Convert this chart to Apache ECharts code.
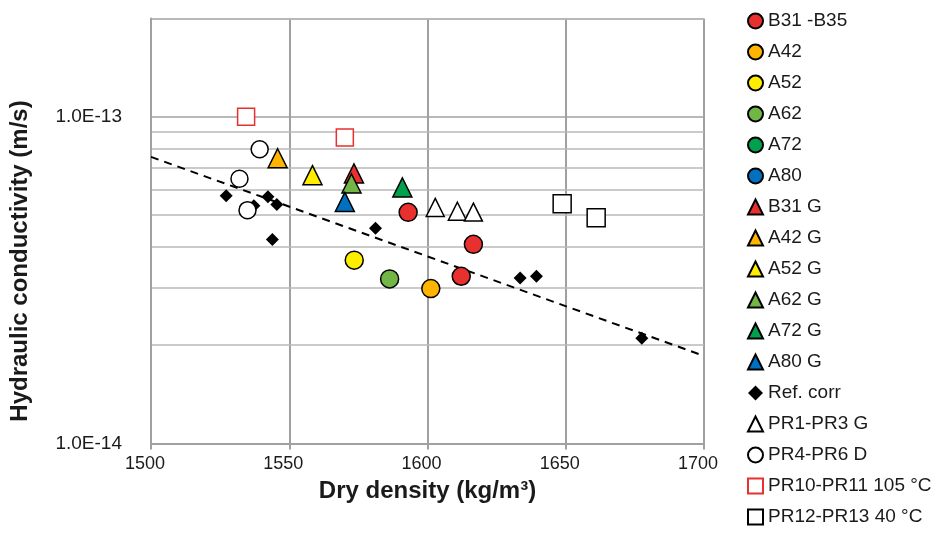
<!DOCTYPE html>
<html>
<head>
<meta charset="utf-8">
<script src="https://cdn.jsdelivr.net/npm/echarts@6/dist/echarts.min.js"></script>
<style>html,body{margin:0;padding:0;background:#fff;}#c{width:936px;height:534px;}</style>
</head>
<body>
<div id="c"></div>
<script>
// ---- data: [dry density kg/m3, hydraulic conductivity m/s] ----
const xTicks = [1500, 1550, 1600, 1650, 1700];
const yTickLabels = ['1.0E-14', '1.0E-13'];
const minorGrid = [2e-14, 3e-14, 4e-14, 5e-14, 6e-14, 7e-14, 8e-14, 9e-14, 2e-13];

const B31_B35 = [[1593.0, 5.10e-14], [1616.6, 4.07e-14], [1612.2, 3.25e-14]];
const A42 = [[1601.2, 2.98e-14]];
const A52 = [[1573.5, 3.64e-14]];
const A62 = [[1586.3, 3.19e-14]];
const A72 = [];
const A80 = [];
const B31_G = [[1573.4, 6.71e-14]];
const A42_G = [[1545.8, 7.47e-14]];
const A52_G = [[1558.4, 6.63e-14]];
const A62_G = [[1572.5, 6.25e-14]];
const A72_G = [[1590.9, 6.08e-14]];
const A80_G = [[1570.1, 5.49e-14]];
const REF_CORR = [[1527.2, 5.73e-14], [1542.3, 5.69e-14], [1537.2, 5.34e-14], [1545.5, 5.39e-14],
                  [1543.9, 4.21e-14], [1581.2, 4.56e-14], [1633.5, 3.21e-14], [1639.4, 3.25e-14],
                  [1677.5, 2.10e-14]];
const PR1_PR3_G = [[1602.8, 5.28e-14], [1610.8, 5.14e-14], [1616.6, 5.11e-14]];
const PR4_PR6_D = [[1539.3, 7.96e-14], [1532.0, 6.46e-14], [1534.9, 5.18e-14]];
const PR10_PR11 = [[1534.4, 1.0e-13], [1570.1, 8.65e-14]];
const PR12_PR13 = [[1648.7, 5.42e-14], [1661.0, 4.91e-14]];
const FIT_LINE = [[1500, 7.54e-14], [1700, 1.854e-14]];

const FONT = 'Arial, "Liberation Sans", sans-serif';
const RED = '#E8312F', ORANGE = '#FFB500', YELLOW = '#FFED00', LGREEN = '#72B646', DGREEN = '#00A04C', BLUE = '#0070C0';

function sc(name, data, symbol, size, fill, border, bw) {
  return {
    name: name, type: 'scatter', data: data, symbol: symbol, symbolSize: size,
    itemStyle: { color: fill, borderColor: border, borderWidth: bw, opacity: 1 },
    emphasis: { disabled: true }, z: 3
  };
}

const series = [
  {
    name: 'minorGrid', type: 'lines', coordinateSystem: 'cartesian2d', silent: true, z: 0,
    lineStyle: { color: '#b8b8b8', width: 1.5, opacity: 1, curveness: 0 },
    data: minorGrid.map(v => ({ coords: [[xTicks[0], v], [xTicks[xTicks.length - 1], v]] }))
  },
  {
    name: 'fit', type: 'line', data: FIT_LINE, symbol: 'none', silent: true, z: 1,
    lineStyle: { color: '#000', width: 2, type: [8, 6] }
  },
  sc('B31 -B35', B31_B35, 'circle', 18, RED, '#000', 1.5),
  sc('A42', A42, 'circle', 18, ORANGE, '#000', 1.5),
  sc('A52', A52, 'circle', 18, YELLOW, '#000', 1.5),
  sc('A62', A62, 'circle', 18, LGREEN, '#000', 1.5),
  sc('A72', A72, 'circle', 18, DGREEN, '#000', 1.5),
  sc('A80', A80, 'circle', 18, BLUE, '#000', 1.5),
  sc('B31 G', B31_G, 'triangle', 19, RED, '#000', 1.5),
  sc('A42 G', A42_G, 'triangle', 19, ORANGE, '#000', 1.5),
  sc('A52 G', A52_G, 'triangle', 19, YELLOW, '#000', 1.5),
  sc('A62 G', A62_G, 'triangle', 19, LGREEN, '#000', 1.5),
  sc('A72 G', A72_G, 'triangle', 19, DGREEN, '#000', 1.5),
  sc('A80 G', A80_G, 'triangle', 19, BLUE, '#000', 1.5),
  sc('Ref. corr', REF_CORR, 'diamond', 13, '#000', '#000', 0),
  sc('PR1-PR3 G', PR1_PR3_G, 'triangle', 18, '#fff', '#000', 1.5),
  sc('PR4-PR6 D', PR4_PR6_D, 'circle', 17, '#fff', '#000', 1.5),
  sc('PR10-PR11 105 °C', PR10_PR11, 'rect', 17, '#fff', RED, 1.5),
  sc('PR12-PR13 40 °C', PR12_PR13, 'rect', 18, '#fff', '#000', 1.5)
];

const chart = echarts.init(document.getElementById('c'), null, { renderer: 'canvas' });
chart.setOption({
  animation: false,
  backgroundColor: '#fff',
  textStyle: { fontFamily: FONT },
  grid: { left: 151, top: 18.5, right: 232, bottom: 90.5, containLabel: false },
  legend: {
    orient: 'vertical', left: 747, top: 11, height: 523, padding: 0,
    itemWidth: 15, itemHeight: 15, itemGap: 11,
    data: series.slice(2).map(s => s.name),
    textStyle: { fontFamily: FONT, fontSize: 19, lineHeight: 20, color: '#1a1a1a' },
    selectedMode: false
  },
  xAxis: {
    type: 'value', min: xTicks[0], max: xTicks[xTicks.length - 1], interval: 50,
    name: 'Dry density (kg/m³)', nameLocation: 'middle', nameGap: 36,
    nameTextStyle: { fontFamily: FONT, fontSize: 24, fontWeight: 'bold', color: '#1a1a1a' },
    axisLine: { show: true, lineStyle: { color: '#a0a0a0', width: 2 } },
    axisTick: { show: true, length: 6, lineStyle: { color: '#a0a0a0', width: 2 } },
    axisLabel: { fontSize: 18, color: '#1a1a1a', margin: 12, fontFamily: FONT, padding: [0, 12, 0, 0],
      formatter: v => String(v) },
    splitLine: { show: true, lineStyle: { color: '#a0a0a0', width: 2 } }
  },
  yAxis: {
    type: 'log', logBase: 10, min: 1e-14, max: 2e-13,
    name: 'Hydraulic conductivity (m/s)', nameLocation: 'middle', nameGap: 119, nameRotate: 90,
    nameTextStyle: { fontFamily: FONT, fontSize: 24, fontWeight: 'bold', color: '#1a1a1a',
      padding: [0, 60, 0, 0] },
    axisLine: { show: true, lineStyle: { color: '#a0a0a0', width: 2 } },
    axisTick: { show: false },
    axisLabel: {
      fontSize: 19, color: '#1a1a1a', margin: 29, fontFamily: FONT, padding: [8, 0, 0, 0],
      formatter: function (v) {
        const e = Math.log10(v);
        const r = Math.round(e);
        if (Math.abs(e - r) < 1e-6) {
          const lbl = '1.0E' + r;
          return yTickLabels.indexOf(lbl) >= 0 ? lbl : '';
        }
        return '';
      }
    },
    splitLine: { show: true, lineStyle: { color: '#a0a0a0', width: 1.5 } }
  },
  series: series
});
</script>
</body>
</html>
